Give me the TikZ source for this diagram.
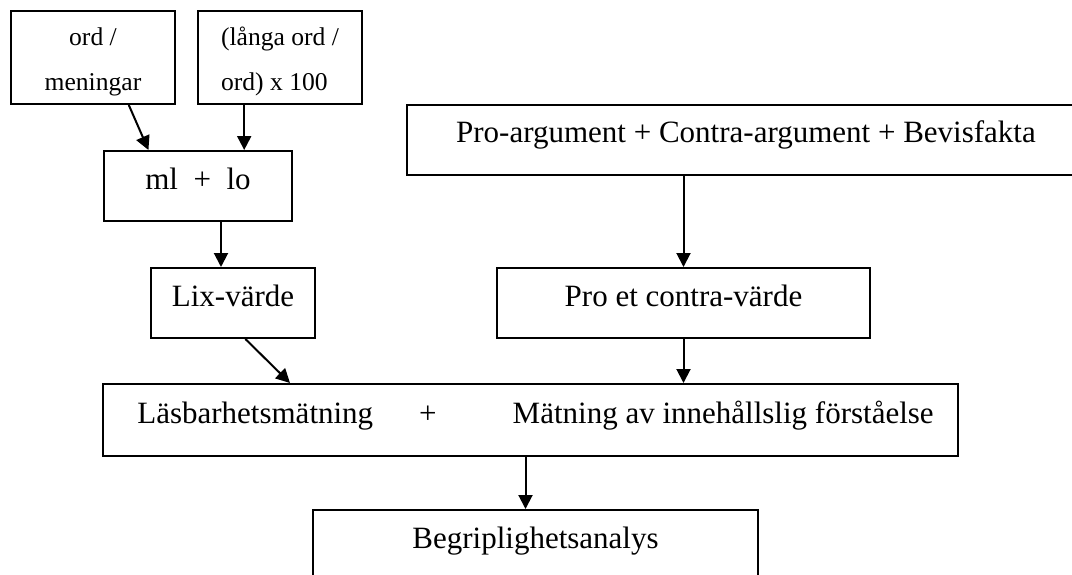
\documentclass[tikz,border=0pt]{standalone}
\usepackage{fontspec}
\setmainfont{Liberation Serif}
\usetikzlibrary{arrows.meta}

\begin{document}
\begin{tikzpicture}[x=0.5pt, y=-0.5pt, line width=1pt, >={Triangle[length=7pt,width=7pt]},
boxnode/.style={rectangle, draw=black, inner sep=0pt, text height=19pt, text depth=16pt, font=\fontsize{15.5}{18}\selectfont},
smallnode/.style={rectangle, draw=black, inner sep=0pt, minimum width=82pt, minimum height=46.5pt, font=\fontsize{12.8}{22.5}\selectfont}]
\useasboundingbox (0,0) rectangle (1072,574);

\node[smallnode, align=center] (ord) at (93,57.5) {\rule{0pt}{13pt}ord /\\meningar};
\node[smallnode, align=left] (langa) at (280,57.5) {\rule{0pt}{13pt}(långa ord /\\ord) x 100};
\node[boxnode, minimum width=94pt] (ml) at (198,186) {ml\ \ +\ \ lo};
\node[boxnode, minimum width=82pt] (lix) at (233,303) {Lix-värde};
\node[boxnode, minimum width=339pt] (arg) at (746,139.5) {Pro-argument + Contra-argument + Bevisfakta};
\node[boxnode, minimum width=186.5pt] (pcv) at (683.5,303) {Pro et contra-värde};
\node[boxnode, minimum width=427.5pt, text height=19.5pt, text depth=16.5pt] (matning) at (530.5,420) {\hspace*{5pt}Läsbarhetsmätning\hspace{23pt}+\hspace{38pt}Mätning av innehållslig förståelse};
\node[boxnode, minimum width=222.5pt] (begrip) at (535.5,545) {Begriplighetsanalys};

\draw[->] (ord.-53) -- (ml.144);
\draw[->] (langa.-127) -- (langa.-127 |- ml.north);
\draw[->] ([xshift=11.5pt]ml.south) -- ([xshift=-6pt]lix.north);
\draw[->] (lix.-71) -- ([xshift=94pt]matning.north west);
\draw[->] (pcv.north |- arg.south) -- (pcv.north);
\draw[->] (pcv.south) -- (pcv.south |- matning.north);
\draw[->] ([xshift=-2.5pt]matning.south) -- ([xshift=-5pt]begrip.north);
\end{tikzpicture}
\end{document}
